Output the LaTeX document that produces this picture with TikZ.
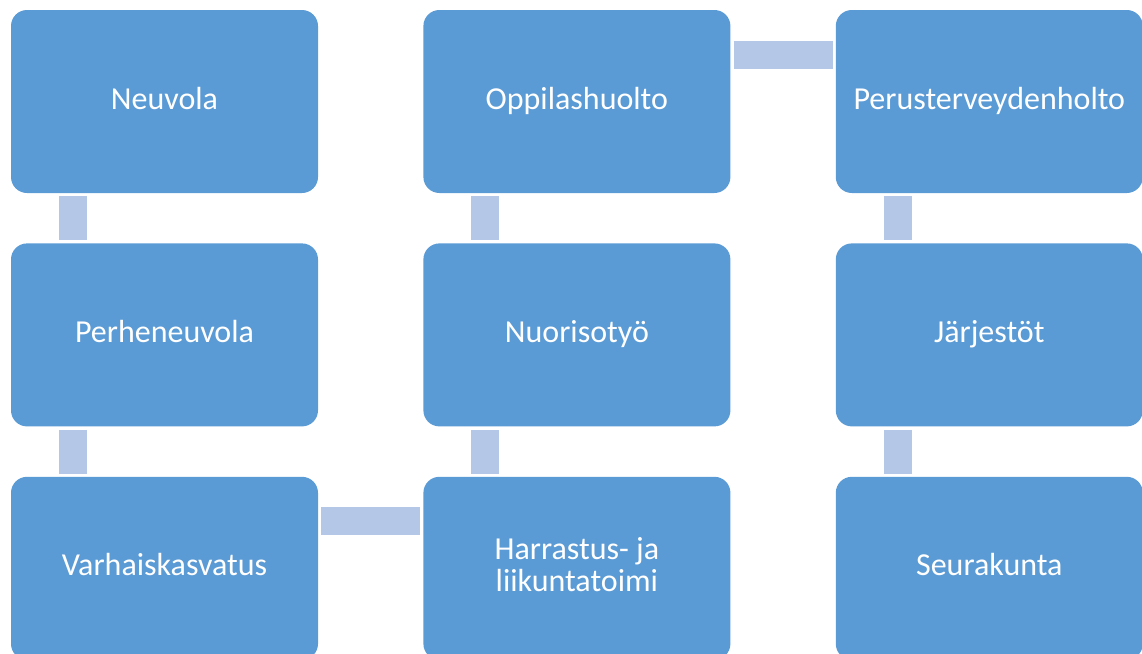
\documentclass[tikz,border=0pt]{standalone}
\usepackage{fontspec}
\setmainfont{Carlito}
\usepackage{xcolor}
\usetikzlibrary{positioning}

\definecolor{boxblue}{HTML}{5B9BD5}
\definecolor{linkblue}{HTML}{B4C7E7}

\begin{document}
\begin{tikzpicture}[
  x=1pt, y=1pt,
  node distance=50pt and 105pt,
  % Box styles
  stage/.style={fill=boxblue, rounded corners=16pt, minimum width=307pt,
                minimum height=183pt, inner sep=0pt, align=center,
                text=white, text height=22pt, text depth=7pt,
                font=\fontsize{32}{32}\selectfont},
  link/.style={draw=linkblue, line width=28pt, shorten <=3pt, shorten >=3pt},
]

\useasboundingbox (0,0) rectangle (1142,-653);

% ---- LEFT COLUMN ----
\node[stage] (neuvola) at (164.5,-101.5) {Neuvola};
\node[stage] (perhe)   [below=of neuvola] {Perheneuvola};
\node[stage] (varhais) [below=of perhe]   {Varhaiskasvatus};

% ---- MIDDLE COLUMN ----
\node[stage, text height=54pt] (harrastus) [right=of varhais] {Harrastus- ja\\liikuntatoimi};
\node[stage] (nuoriso)   [above=of harrastus] {Nuorisotyö};
\node[stage] (oppilas)   [above=of nuoriso]   {Oppilashuolto};

% ---- RIGHT COLUMN ----
\node[stage] (perus)     [right=of oppilas] {Perusterveydenholto};
\node[stage] (jarjestot) [below=of perus]   {Järjestöt};
\node[stage] (seura)     [below=of jarjestot] {Seurakunta};

% connectors
\draw[link] ([xshift=62pt]neuvola.south west) -- ([xshift=62pt]perhe.north west);
\draw[link] ([xshift=62pt]perhe.south west) -- ([xshift=62pt]varhais.north west);
\draw[link] ([yshift=-44pt]varhais.north east) -- ([yshift=-44pt]harrastus.north west);
\draw[link] ([xshift=62pt]harrastus.north west) -- ([xshift=62pt]nuoriso.south west);
\draw[link] ([xshift=62pt]nuoriso.north west) -- ([xshift=62pt]oppilas.south west);
\draw[link] ([yshift=-45pt]oppilas.north east) -- ([yshift=-45pt]perus.north west);
\draw[link] ([xshift=62pt]perus.south west) -- ([xshift=62pt]jarjestot.north west);
\draw[link] ([xshift=62pt]jarjestot.south west) -- ([xshift=62pt]seura.north west);

\end{tikzpicture}
\end{document}
